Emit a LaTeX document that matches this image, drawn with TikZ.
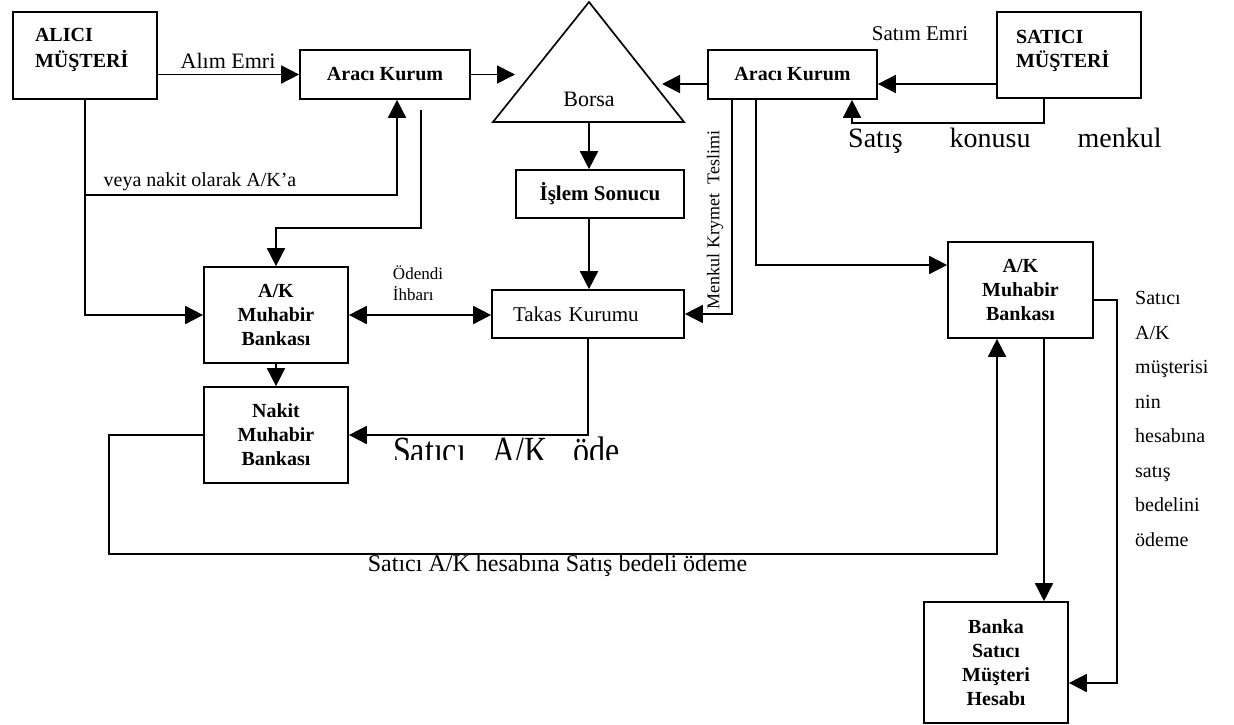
\documentclass[tikz,border=0pt]{standalone}
\usepackage{fontspec}
\usepackage{graphicx}
\setmainfont{Liberation Serif}
\usetikzlibrary{arrows.meta}
\newcommand\myfs[2]{\fontsize{#1}{#2}\selectfont}
\begin{document}
\begin{tikzpicture}[x=1pt,y=-1pt,
  lw/.style={line width=1.7pt},
  box/.style={draw,line width=1.7pt,inner sep=0pt,align=center,font=\bfseries\myfs{20}{24}},
  arr/.style={line width=1.7pt,-{Triangle[length=18pt,width=18pt]}},
  darr/.style={line width=1.7pt,{Triangle[length=18pt,width=18pt]}-{Triangle[length=18pt,width=18pt]}},
  lbl/.style={inner sep=0pt,font=\myfs{20}{24}},
]
\useasboundingbox (0,0) rectangle (1234,725);

% boxes
\node[box,minimum width=144pt,minimum height=87pt,text width=100pt,align=left,font=\bfseries\myfs{20}{26},text depth=40.5pt] (alici) at (85,55.5) {ALICI\\MÜŞTERİ};
\node[box,minimum width=170pt,minimum height=49pt] (aracL) at (385,74.5) {Aracı Kurum};
\node[box,minimum width=169pt,minimum height=49pt] (aracR) at (792.5,74.5) {Aracı Kurum};
\node[box,minimum width=144pt,minimum height=86pt,text width=106pt,align=left,font=\bfseries\myfs{20}{24},text depth=36.9pt] (satici) at (1069,55) {SATICI\\MÜŞTERİ};
\node[box,minimum width=168pt,minimum height=48pt,font=\bfseries\myfs{21}{24}] (islem) at (600,194) {İşlem Sonucu};
\node[box,minimum width=192pt,minimum height=48pt,text width=150pt,align=left,font=\myfs{21}{24}] (takas) at (588,314) {Takas Kurumu};
\node[box,minimum width=144pt,minimum height=96pt] (akL) at (276,315) {A/K\\Muhabir\\Bankası};
\node[box,minimum width=144pt,minimum height=96pt] (nakit) at (276,435) {Nakit\\Muhabir\\Bankası};
\node[box,minimum width=145pt,minimum height=96pt] (akR) at (1020.5,290) {A/K\\Muhabir\\Bankası};
\node[box,minimum width=144pt,minimum height=121pt] (banka) at (996,662.5) {Banka\\Satıcı\\Müşteri\\Hesabı};

% Borsa triangle
\draw[lw] (589,2) -- (684,122) -- (493,122) -- cycle;
\node[lbl,font=\myfs{22}{24}] (borsa) at (589,99) {Borsa};
\coordinate (bB) at (589,122);
\coordinate (bL) at (515,74.5);
\coordinate (bR) at (662,84);

% connectors, left side
\draw[arr] (alici.east |- aracL.west) -- (aracL.west);
\node[lbl,font=\myfs{22}{24}] (alim) at (228,60.5) {Alım Emri};
\draw[arr] (aracL.east) -- (bL);
\draw[arr] (alici.south) |- (akL.west);
\coordinate (v1) at (85,195);
\draw[arr] (v1) -| ([xshift=12pt]aracL.south);
\node[lbl] (veya) at (200,181.4) {veya nakit olarak A/K’a};
\coordinate (s5) at (421,110);
\draw[arr] (s5) |- ([yshift=38pt]akL.north) -- (akL.north);

% right side top
\draw[arr] ([yshift=-9.5pt]aracR.west) -- (bR);
\draw[arr] (satici.west |- bR) -- (aracR.east |- bR);
\node[lbl,font=\myfs{21}{24}] (satim) at (920,33.5) {Satım Emri};
\draw[arr] ([xshift=-25pt]satici.south) -- ++(0,24) -| ([xshift=59.5pt]aracR.south);
\node[lbl,anchor=base west,font=\myfs{28}{30}] (stk) at (848,147) {Satış\hspace{40pt} konusu\hspace{40pt} menkul};

% Menkul kiymet teslimi
\draw[arr] ([xshift=-60.5pt]aracR.south) |- (takas.east);
\node[lbl,rotate=90,font=\myfs{18}{20}] (mkt) at (715,220) {Menkul Krymet\ \ Teslimi};
\draw[arr] ([xshift=-36.5pt]aracR.south) |- ([yshift=25pt]akR.west);

% centre column
\draw[arr] (bB) -- (bB |- islem.north);
\draw[arr] (bB |- islem.south) -- (bB |- takas.north);
\draw[darr] (akL.east) -- (akL.east -| takas.west);
\node[lbl,align=left,font=\myfs{17}{21}] (odendi) at (418,283.5) {Ödendi\\İhbarı};
\draw[arr] (akL.south) -- (nakit.north);
\draw[arr] (takas.south) |- (nakit.east);

\begin{scope}
\clip (380,425) rectangle (640,459);
\node[lbl,anchor=base west,font=\myfs{32}{34}] (satode) at (393,463) {\scalebox{1}[1.2]{Satıcı\hspace{18pt} A/K\hspace{18pt} öde}};
\end{scope}

% bottom loop
\draw[arr] (nakit.west) -| (109,554) -| ([xshift=-23.5pt]akR.south);
\node[lbl,anchor=base,font=\myfs{24}{26}] (skh) at (557.5,571) {Satıcı A/K hesabına Satış bedeli ödeme};

% right bottom
\draw[arr] ([yshift=-10pt]akR.east) -| (1117,683) -- ([yshift=-20.5pt]banka.east);
\coordinate (t20) at ([xshift=23.5pt]akR.south);
\draw[arr] (t20) -- (t20 |- banka.north);
\node[lbl,anchor=north west,align=left,font=\myfs{20}{34.5}] (rcol) at (1135,291.5) {Satıcı\\A/K\\müşterisi\\nin\\hesabına\\satış\\bedelini\\ödeme};
\end{tikzpicture}
\end{document}
